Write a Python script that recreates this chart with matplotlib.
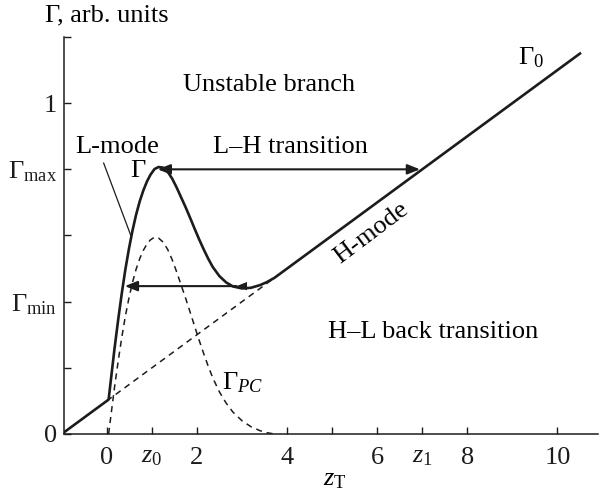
"""Flux-driven L-H / H-L transition diagram: total flux Gamma vs z_T."""
import matplotlib
matplotlib.use("Agg")
import matplotlib.pyplot as plt

plt.rcParams["font.family"] = ["Liberation Serif", "DejaVu Serif"]
plt.rcParams["mathtext.fontset"] = "custom"
plt.rcParams["mathtext.rm"] = "Liberation Serif"
plt.rcParams["mathtext.it"] = "Liberation Serif:italic"

INK = "#1c1c1c"
FS = 19

# Gamma_0 baseline: linear in z_T
G0_OFFSET = 0.1
G0_SLOPE = 0.1
Z_START = -1.0
Z_END = 10.5

# Gamma_PC bump (dashed curve)
z_pc = [0.04, 0.10, 0.17, 0.25, 0.33, 0.41, 0.49, 0.57, 0.65, 0.73, 0.81, 0.89,
        0.97, 1.06, 1.15, 1.25, 1.35, 1.45, 1.55, 1.65, 1.75, 1.85, 1.95, 2.05,
        2.15, 2.25, 2.35, 2.5, 2.65, 2.8, 3.0, 3.2, 3.4, 3.55, 3.72]
g_pc = [0.0, 0.065, 0.140, 0.218, 0.290, 0.355, 0.410, 0.458, 0.498, 0.530,
        0.555, 0.574, 0.587, 0.595, 0.592, 0.580, 0.558, 0.527, 0.490, 0.450,
        0.410, 0.368, 0.325, 0.283, 0.243, 0.205, 0.170, 0.127, 0.093, 0.066,
        0.040, 0.022, 0.010, 0.004, 0.0]

# transitions
G_MAX = 0.8
G_MIN = 0.4
lh_z = (1.13, 6.95)     # L-H jump at Gamma_max
hl_z = (0.40, 2.88)     # H-L back jump
hl_level = 0.447

x_ticks = [0, 1, 2, 4, 5, 6, 7, 8, 10]
x_labels = ["0", r"$z_0$", "2", "4", "", "6", r"$z_1$", "8", "10"]
y_ticks = [0, 0.2, 0.4, 0.6, 0.8, 1.0, 1.2]
y_labels = ["0", "", r"$\Gamma_{\rm min}$", "", r"$\Gamma_{\rm max}$", "1", ""]


def gamma0(z):
    return G0_OFFSET + G0_SLOPE * z


fig = plt.figure(figsize=(6.0, 4.95), dpi=100)
ax = fig.add_axes([64 / 600, 61 / 495, 534 / 600, 397 / 495])
ax.set_xlim(-0.95, 10.9)
ax.set_ylim(0, 1.2)

# total flux: baseline below z=0, baseline + bump, then pure baseline
z_tot = [Z_START] + z_pc + [Z_END]
g_tot = [gamma0(Z_START)] + [gamma0(z) + g for z, g in zip(z_pc, g_pc)] + [gamma0(Z_END)]
ax.plot(z_tot, g_tot, color=INK, lw=1.9, solid_joinstyle="round")

# dashed components
ax.plot(z_pc, g_pc, color=INK, lw=1.1, ls=(0, (4, 3.2)))
ax.plot([0, 3.7], [gamma0(0), gamma0(3.7)], color=INK, lw=1.1, ls=(0, (4, 3.2)))

head = "head_length=0.75,head_width=0.3"
ax.annotate("", xy=(lh_z[1], G_MAX), xytext=(lh_z[0], G_MAX),
            arrowprops=dict(arrowstyle="<|-|>," + head, color=INK, lw=1.5,
                            shrinkA=0, shrinkB=0, mutation_scale=10))
ax.annotate("", xy=(hl_z[0], hl_level), xytext=(hl_z[1], hl_level),
            arrowprops=dict(arrowstyle="-|>," + head, color=INK, lw=1.5,
                            shrinkA=0, shrinkB=0, mutation_scale=10))
ax.annotate("", xy=(hl_z[1], hl_level), xytext=(hl_z[1] + 0.22, hl_level),
            arrowprops=dict(arrowstyle="-|>," + head, color=INK, lw=0,
                            shrinkA=0, shrinkB=0, mutation_scale=10))

# L-mode pointer
ax.plot([-0.07, 0.53], [0.819, 0.601], color=INK, lw=0.9)

ax.text(3.59, 1.054, "Unstable branch", fontsize=FS, ha="center", va="center")
ax.text(0.24, 0.867, "L-mode", fontsize=FS, ha="center", va="center")
ax.text(4.08, 0.867, "L\u2013H transition", fontsize=FS, ha="center", va="center")
ax.text(0.69, 0.795, "\u0393", fontsize=FS, ha="center", va="center")
ax.text(9.42, 1.136, r"$\Gamma_0$", fontsize=FS, ha="center", va="center")
ax.text(5.88, 0.607, "H-mode", fontsize=FS, ha="center", va="center", rotation=37)
ax.text(7.25, 0.308, "H\u2013L back transition", fontsize=FS, ha="center", va="center")
ax.text(3.02, 0.154, r"$\Gamma_{PC}$", fontsize=FS, ha="center", va="center")
ax.text(5.06, -0.139, r"$z_{\rm T}$", fontsize=FS, ha="center", va="center", clip_on=False)
fig.text(45 / 600, 1 - 15 / 495, "\u0393, arb. units", fontsize=FS, ha="left", va="center")

for side in ("top", "right"):
    ax.spines[side].set_visible(False)
for side in ("left", "bottom"):
    ax.spines[side].set_linewidth(1.1)
    ax.spines[side].set_color(INK)

ax.set_xticks(x_ticks)
ax.set_xticklabels(x_labels)
ax.set_yticks(y_ticks)
ax.set_yticklabels(y_labels)
ax.tick_params(direction="in", length=5, width=1.0, colors=INK, labelsize=FS)
ax.tick_params(axis="x", pad=9)
ax.tick_params(axis="y", pad=5)

fig.savefig("out.png", dpi=100)
